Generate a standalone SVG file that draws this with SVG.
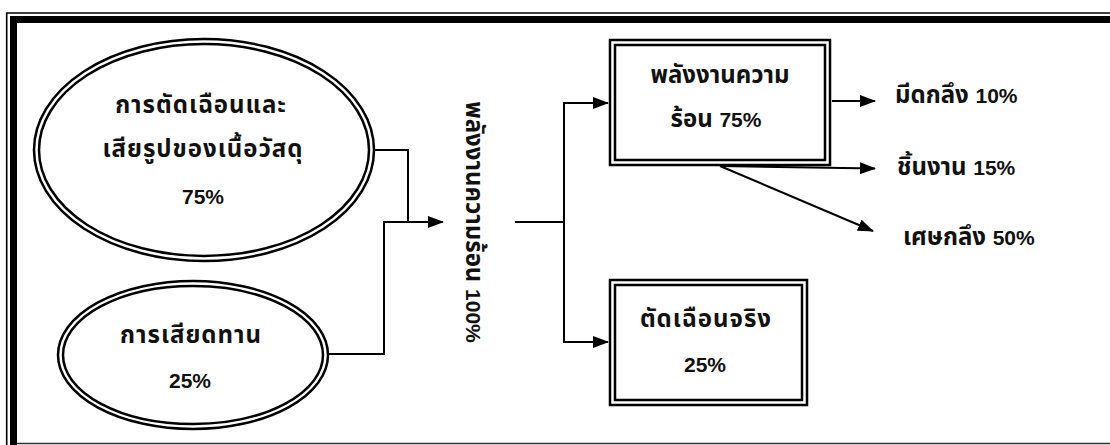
<svg xmlns="http://www.w3.org/2000/svg" width="1110" height="445" viewBox="0 0 1110 445">
<style>
.t{font-family:"Liberation Sans","Noto Sans Thai","Noto Sans",sans-serif;font-weight:bold;font-size:24px;fill:#111;text-anchor:middle}
.l{font-family:"Liberation Sans","Noto Sans Thai","Noto Sans",sans-serif;font-weight:bold;font-size:24px;fill:#111}
.w{letter-spacing:1px}
.n{font-size:21px;letter-spacing:0}
.c{fill:none;stroke:#000;stroke-width:2}
.dbl{fill:none;stroke:#000;stroke-width:2.5}
</style>
<defs>
<marker id="ah" markerWidth="16" markerHeight="12" refX="15" refY="6" orient="auto" markerUnits="userSpaceOnUse">
<path d="M0,0 L16,6 L0,12 Z" fill="#000"/>
</marker>
</defs>
<rect x="0" y="0" width="1110" height="445" fill="#fff"/>
<g id="frame">
<path d="M6.7,445 V13 H1110" fill="none" stroke="#000" stroke-width="1.6"/>
<path d="M13.5,445 V19.5 H1110" fill="none" stroke="#000" stroke-width="7"/>
<line x1="17" y1="443.5" x2="1110" y2="443.5" stroke="#333" stroke-width="1.5"/>
</g>
<g id="connectors">
<polyline class="c" points="375,150 408,150 408,222"/>
<polyline class="c" points="328,354 384,354 384,222 443,222" marker-end="url(#ah)"/>
<line class="c" x1="515" y1="222" x2="564" y2="222"/>
<polyline class="c" points="608,103 564,103 564,342 608,342"/>
<line class="c" x1="590" y1="103" x2="608" y2="103" marker-end="url(#ah)"/>
<line class="c" x1="590" y1="342" x2="608" y2="342" marker-end="url(#ah)"/>
<line class="c" x1="832" y1="101" x2="875" y2="101" marker-end="url(#ah)"/>
<line class="c" x1="720" y1="166" x2="875" y2="168.5" marker-end="url(#ah)"/>
<line class="c" x1="720" y1="166" x2="873" y2="231" marker-end="url(#ah)"/>
</g>
<g id="n1">
<ellipse class="dbl" cx="204" cy="150" rx="170" ry="111"/>
<ellipse class="dbl" cx="204" cy="150" rx="165" ry="106"/>
<text class="t w" x="201" y="113">การตัดเฉือนและ</text>
<text class="t w" x="203" y="157">เสียรูปของเนื้อวัสดุ</text>
<text class="t n" x="203" y="204">75%</text>
</g>
<g id="n2">
<ellipse class="dbl" cx="193" cy="355" rx="135" ry="74"/>
<ellipse class="dbl" cx="193" cy="355" rx="130" ry="69"/>
<text class="t w" x="191" y="343">การเสียดทาน</text>
<text class="t n" x="190" y="388">25%</text>
</g>
<g id="n3">
<text class="t" transform="translate(466,222) rotate(90)">พลังงานความร้อน <tspan class="n">100%</tspan></text>
</g>
<g id="n4">
<rect class="dbl" x="610" y="40" width="220" height="125"/>
<rect class="dbl" x="615" y="45" width="210" height="115"/>
<text class="t" x="720" y="83">พลังงานความ</text>
<text class="t" x="716" y="127">ร้อน <tspan class="n">75%</tspan></text>
</g>
<g id="n5">
<rect class="dbl" x="610" y="280" width="197" height="125"/>
<rect class="dbl" x="615" y="285" width="187" height="115"/>
<text class="t w" x="706" y="327">ตัดเฉือนจริง</text>
<text class="t n" x="705" y="372">25%</text>
</g>
<g id="n6"><text class="l" x="895" y="103">มีดกลึง <tspan class="n">10%</tspan></text></g>
<g id="n7"><text class="l" x="897" y="175">ชิ้นงาน <tspan class="n">15%</tspan></text></g>
<g id="n8"><text class="l" x="903" y="245">เศษกลึง <tspan class="n">50%</tspan></text></g>
</svg>
